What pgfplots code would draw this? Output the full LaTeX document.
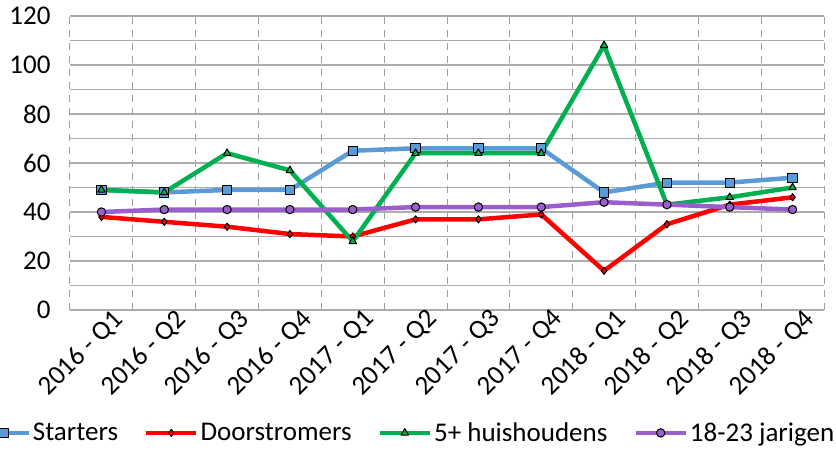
\documentclass[border=0pt]{standalone}
\usepackage{pgfplots}
\pgfplotsset{compat=1.18}
\usepackage{fontspec}
\setmainfont{Carlito}
\definecolor{cblue}{RGB}{91,155,213}
\definecolor{cred}{RGB}{255,0,0}
\definecolor{cgreen}{RGB}{0,176,80}
\definecolor{cpurple}{RGB}{155,95,205}
\begin{document}
\begin{tikzpicture}
\begin{axis}[
  at={(0pt,0pt)}, anchor=south west,
  scale only axis, width=754pt, height=294pt,
  xmin=-0.5, xmax=11.5, ymin=0, ymax=120,
  xtick={0,...,11},
  xticklabels={2016 - Q1,2016 - Q2,2016 - Q3,2016 - Q4,2017 - Q1,2017 - Q2,2017 - Q3,2017 - Q4,2018 - Q1,2018 - Q2,2018 - Q3,2018 - Q4},
  minor xtick={-0.5,0.5,...,11.5},
  ytick={0,20,...,120},
  minor ytick={10,30,...,110},
  major tick length=0pt, minor tick length=0pt,
  xmajorgrids=false, xminorgrids=true, ymajorgrids=true, yminorgrids=true,
  minor x grid style={gray!75, dash pattern=on 7pt off 6pt, line width=1pt},
  major y grid style={gray!65, line width=1.2pt},
  minor y grid style={gray!65, line width=1.2pt},
  axis line style={draw=none},
  /pgf/number format/assume math mode=true,
  tick label style={font=\fontsize{27}{32}\selectfont, black},
  yticklabel style={xshift=-16pt},
  xticklabel style={rotate=45, anchor=north east, xshift=12pt, yshift=-2pt},
  legend columns=4,
  legend style={at={(rel axis cs:0.446,-0.418)}, anchor=center, draw=none, fill=none,
    font=\fontsize{27}{32}\selectfont, inner sep=0pt,
    /tikz/every even column/.append style={column sep=24pt}},
  legend image code/.code={\draw[mark repeat=2,mark phase=2,#1] plot coordinates {(0pt,0pt)(25pt,0pt)(50pt,0pt)};},
  every axis plot/.append style={line width=4.5pt, line join=round},
]
\addplot[cblue, mark=square*, mark size=4.6pt, mark options={solid, draw=black, line width=1pt, fill=cblue}] coordinates {
(0,49)(1,48)(2,49)(3,49)(4,65)(5,66)(6,66)(7,66)(8,48)(9,52)(10,52)(11,54)};
\addlegendentry{Starters}
\addplot[cred, mark=diamond*, mark size=3.6pt, mark options={solid, draw=black, line width=1pt, fill=cred}] coordinates {
(0,38)(1,36)(2,34)(3,31)(4,30)(5,37)(6,37)(7,39)(8,16)(9,35)(10,43)(11,46)};
\addlegendentry{Doorstromers}
\addplot[cgreen, mark=triangle*, mark size=4.3pt, mark options={solid, draw=black, line width=1pt, fill=cgreen}] coordinates {
(0,49)(1,48)(2,64)(3,57)(4,28)(5,64)(6,64)(7,64)(8,108)(9,43)(10,46)(11,50)};
\addlegendentry{5+ huishoudens}
\addplot[cpurple, mark=*, mark size=4.2pt, mark options={solid, draw=black, line width=1pt, fill=cpurple}] coordinates {
(0,40)(1,41)(2,41)(3,41)(4,41)(5,42)(6,42)(7,42)(8,44)(9,43)(10,42)(11,41)};
\addlegendentry{18-23 jarigen}
\end{axis}
\pgfresetboundingbox
\path (-70pt,-143pt) rectangle (766pt,310pt);
\end{tikzpicture}
\end{document}
